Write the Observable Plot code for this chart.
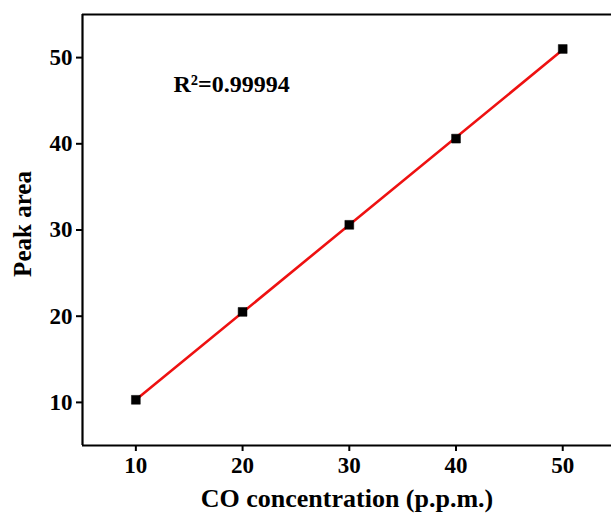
<!DOCTYPE html>
<html>
<head>
<meta charset="utf-8">
<script src="https://cdn.jsdelivr.net/npm/d3@7"></script>
<script src="https://cdn.jsdelivr.net/npm/@observablehq/plot@0.6"></script>
<style>
  html, body { margin: 0; padding: 0; background: #fff; }
  #chart svg { display: block; }
</style>
</head>
<body>
<div id="chart"></div>
<script>
const concentration = [10, 20, 30, 40, 50];
const peakArea = [10.3, 20.5, 30.6, 40.6, 51.0];
const xTicks = [10, 20, 30, 40, 50];
const yTicks = [10, 20, 30, 40, 50];
const r2Label = "R²=0.99994";
const xLabel = "CO concentration (p.p.m.)";
const yLabel = "Peak area";

const data = concentration.map((c, i) => ({c, a: peakArea[i]}));
const font = "'Liberation Serif', 'Times New Roman', serif";

const chart = Plot.plot({
  width: 611,
  height: 515,
  marginLeft: 82,
  marginRight: 0,
  marginTop: 14,
  marginBottom: 70,
  style: {background: "#fff", fontFamily: font, color: "#000"},
  x: {domain: [5, 54.57]},
  y: {domain: [5, 55]},
  marks: [
    Plot.ruleX([5], {stroke: "#000", strokeWidth: 2.2}),
    Plot.ruleY([5, 55], {stroke: "#000", strokeWidth: 2.2}),
    Plot.axisX({ticks: xTicks, tickSize: 6, tickPadding: 5, tickFormat: d => d, fontSize: 23, fontWeight: "bold", strokeWidth: 2, label: null}),
    Plot.axisY({ticks: yTicks, tickSize: 6, tickPadding: 4, tickFormat: d => d, fontSize: 23, fontWeight: "bold", strokeWidth: 2, label: null}),
    Plot.linearRegressionY(data, {x: "c", y: "a", stroke: "#ee1111", strokeWidth: 2.6, ci: 0}),
    Plot.dot(data, {x: "c", y: "a", symbol: "square", r: 5, fill: "#000", stroke: "#000", strokeWidth: 0.5}),
    Plot.text([r2Label], {frameAnchor: "top-left", dx: 91, dy: 60, textAnchor: "start", fontSize: 24, fontWeight: "bold", fill: "#000"}),
    Plot.text([xLabel], {frameAnchor: "bottom", dy: 61, fontSize: 26, fontWeight: "bold", fill: "#000"}),
    Plot.text([yLabel], {frameAnchor: "left", dx: -60, dy: -6, rotate: -90, textAnchor: "middle", fontSize: 25, fontWeight: "bold", fill: "#000"})
  ]
});
document.getElementById("chart").appendChild(chart);
</script>
</body>
</html>
